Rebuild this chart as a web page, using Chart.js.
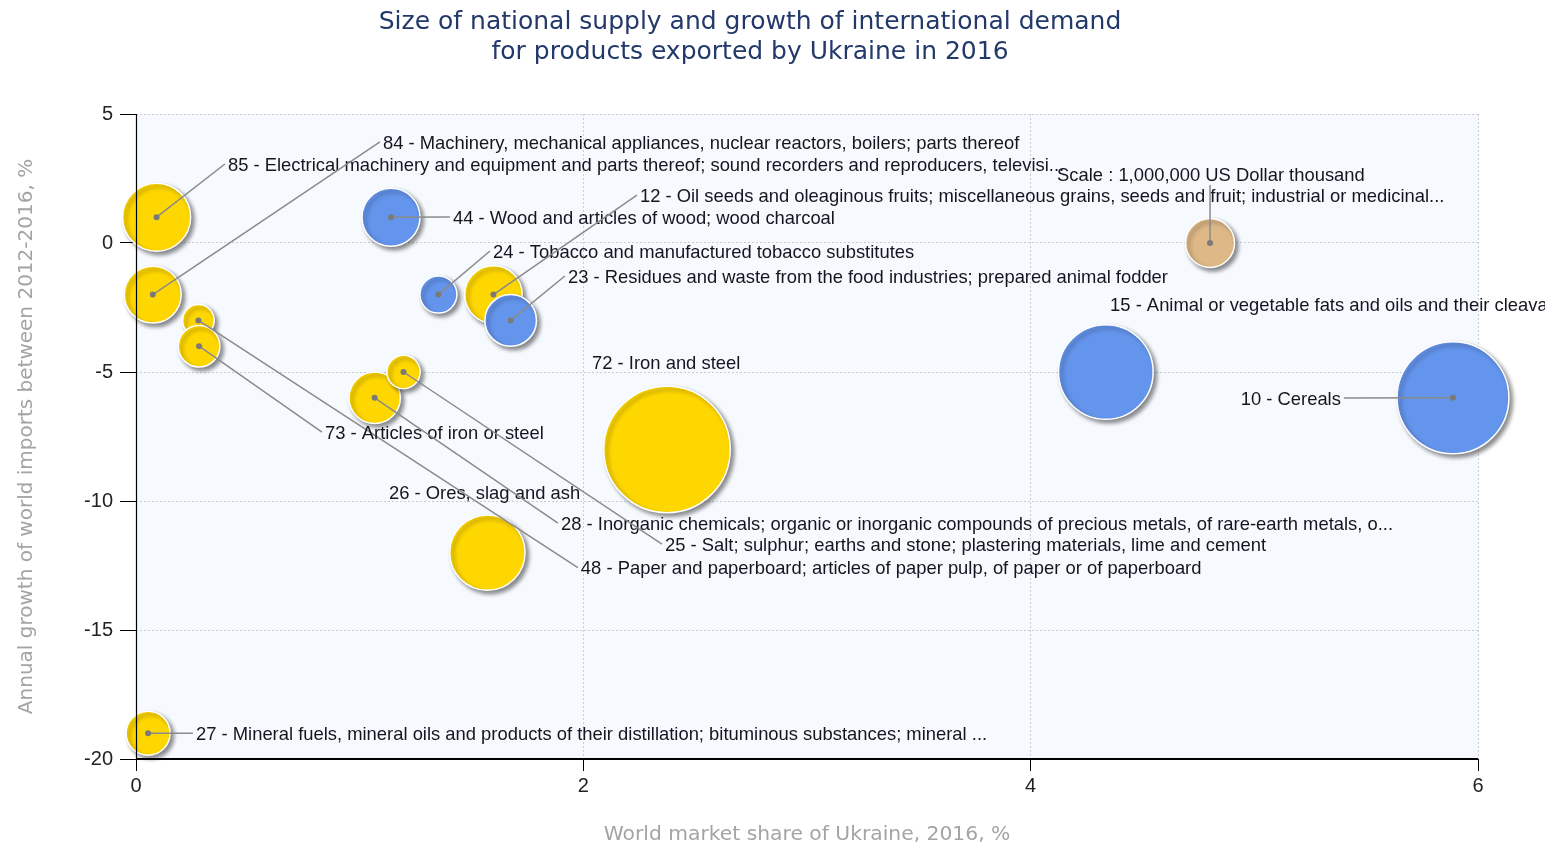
<!DOCTYPE html>
<html><head><meta charset="utf-8">
<script src="https://cdn.jsdelivr.net/npm/chart.js@4.4.1/dist/chart.umd.min.js"></script>
<style>html,body{margin:0;padding:0;background:#fff;overflow:hidden}</style>
</head><body>
<canvas id="c" width="1545" height="846"></canvas>
<script>
// ---------- text ----------
const TITLE = ["Size of national supply and growth of international demand", "for products exported by Ukraine in 2016"];
const X_TITLE = "World market share of Ukraine, 2016, %";
const Y_TITLE = "Annual growth of world imports between 2012-2016, %";

// ---------- axes ----------
const X_MIN = 0, X_MAX = 6, X_STEP = 2;
const Y_MIN = -20, Y_MAX = 5, Y_STEP = 5;

// ---------- data (drawing order) ----------
const codes = ["10","15","72","26","85","84","44","24","12","23","48","73","28","25","27"];
const names = [
  "Cereals",
  "Animal or vegetable fats and oils and their cleavage products; prepared edible fats; animal or vegetable waxes",
  "Iron and steel",
  "Ores, slag and ash",
  "Electrical machinery and equipment and parts thereof; sound recorders and reproducers, televisi...",
  "Machinery, mechanical appliances, nuclear reactors, boilers; parts thereof",
  "Wood and articles of wood; wood charcoal",
  "Tobacco and manufactured tobacco substitutes",
  "Oil seeds and oleaginous fruits; miscellaneous grains, seeds and fruit; industrial or medicinal...",
  "Residues and waste from the food industries; prepared animal fodder",
  "Paper and paperboard; articles of paper pulp, of paper or of paperboard",
  "Articles of iron or steel",
  "Inorganic chemicals; organic or inorganic compounds of precious metals, of rare-earth metals, o...",
  "Salt; sulphur; earths and stone; plastering materials, lime and cement",
  "Mineral fuels, mineral oils and products of their distillation; bituminous substances; mineral ..."
];
// world market share of Ukraine, 2016, %
const share  = [5.888, 4.336, 2.374, 1.571, 0.092, 0.075, 1.140, 1.352, 1.598, 1.675, 0.279, 0.282, 1.067, 1.196, 0.054];
// annual growth of world imports 2012-2016, %
const growth = [-6, -5, -8, -12, 1, -2, 1, -2, -2, -3, -3, -4, -6, -5, -19];
// exports of Ukraine 2016, US Dollar thousand (bubble size)
const exportValue = [5220000, 3730000, 6670000, 2370000, 1930000, 1350000, 1400000, 570000, 1380000, 1110000, 416000, 720000, 1100000, 465000, 806000];
// colour group
const group = ["blue","blue","gold","gold","gold","gold","blue","blue","gold","blue","gold","gold","gold","gold","gold"];
// scale bubble
const SCALE_VALUE = 1000000;
const SCALE_SHARE = 4.802, SCALE_GROWTH = 0;
const SCALE_TEXT = "Scale : 1,000,000 US Dollar thousand";

// ---------- label layout (axis units): [textX, textY, leader, align] ----------
const labelLayout = {
  "10": [5.387, -6.008, true, "right"],
  "15": [4.355, -2.364, false, "left"],
  "72": [2.039, -4.612, false, "left"],
  "26": [1.131, -9.651, false, "left"],
  "85": [0.411, 3.062, true, "left"],
  "84": [1.104, 3.915, true, "left"],
  "44": [1.417, 1.008, true, "left"],
  "24": [1.596, -0.310, true, "left"],
  "12": [2.253, 1.860, true, "left"],
  "23": [1.931, -1.279, true, "left"],
  "48": [1.989, -12.585, true, "left"],
  "73": [0.845, -7.326, true, "left"],
  "28": [1.900, -10.853, true, "left"],
  "25": [2.365, -11.667, true, "left"],
  "27": [0.268, -19.0, true, "left"]
};
const scaleLabelLayout = { text: [4.118, 2.655], leaderEnd: [4.802, 2.248] };

// ---------- styling ----------
const COLORS = { gold: "#FFD700", blue: "#6495ED", scale: "#DEB887" };
const SCALE_RADIUS = 24.5; // pixel radius of the 1,000,000 scale bubble
const LABEL_FONT = "18.4px 'Liberation Sans', Arial, sans-serif";
const TEXT_DY = 1.5;
const rOf = v => SCALE_RADIUS * Math.sqrt(v / SCALE_VALUE);

const points = share.map((x, i) => ({ x: x, y: growth[i], r: rOf(exportValue[i]), code: codes[i] }));
points.push({ x: SCALE_SHARE, y: SCALE_GROWTH, r: rOf(SCALE_VALUE), code: "scale" });
const bg = group.map(g => COLORS[g]).concat([COLORS.scale]);

const bgPlugin = {
  id: 'bgPlugin',
  beforeDraw(chart) {
    const { ctx, chartArea: a } = chart;
    ctx.save();
    ctx.fillStyle = '#fff';
    ctx.fillRect(0, 0, chart.width, chart.height);
    ctx.fillStyle = '#F6F9FE';
    ctx.fillRect(a.left, a.top, a.right - a.left, a.bottom - a.top);
    ctx.restore();
  },
  beforeDatasetDraw(chart) {
    const ctx = chart.ctx;
    ctx.save();
    ctx.shadowColor = 'rgba(0,0,0,0.45)';
    ctx.shadowBlur = 4;
    ctx.shadowOffsetX = 3;
    ctx.shadowOffsetY = 3;
  },
  afterDatasetDraw(chart) {
    chart.ctx.restore();
  },
  afterDatasetsDraw(chart) {
    const { ctx, chartArea: a } = chart;
    const xs = chart.scales.x, ys = chart.scales.y;
    ctx.save();
    // axis lines
    ctx.strokeStyle = '#000';
    ctx.lineWidth = 1.2;
    ctx.beginPath();
    ctx.moveTo(a.left + 0.5, a.top);
    ctx.lineTo(a.left + 0.5, a.bottom);
    ctx.stroke();
    ctx.lineWidth = 2;
    ctx.beginPath();
    ctx.moveTo(a.left, a.bottom);
    ctx.lineTo(a.right, a.bottom);
    ctx.stroke();

    ctx.font = LABEL_FONT;
    ctx.textBaseline = 'middle';
    const meta = chart.getDatasetMeta(0);
    points.forEach((p, i) => {
      const el = meta.data[i];
      const cx = el.x, cy = el.y;
      if (p.code === 'scale') {
        const ex = xs.getPixelForValue(scaleLabelLayout.leaderEnd[0]);
        const ey = ys.getPixelForValue(scaleLabelLayout.leaderEnd[1]);
        ctx.strokeStyle = '#8a8a8a'; ctx.lineWidth = 1.5;
        ctx.beginPath(); ctx.moveTo(cx, cy); ctx.lineTo(ex, ey); ctx.stroke();
        ctx.fillStyle = '#7a7a7a';
        ctx.beginPath(); ctx.arc(cx, cy, 3, 0, Math.PI * 2); ctx.fill();
        ctx.fillStyle = '#151520'; ctx.textAlign = 'left';
        ctx.fillText(SCALE_TEXT, xs.getPixelForValue(scaleLabelLayout.text[0]), ys.getPixelForValue(scaleLabelLayout.text[1]) + TEXT_DY);
        return;
      }
      const L = labelLayout[p.code];
      const tx = xs.getPixelForValue(L[0]);
      const ty = ys.getPixelForValue(L[1]);
      if (L[2]) {
        const ex = L[3] === 'right' ? tx + 3 : tx - 3;
        ctx.strokeStyle = '#8a8a8a'; ctx.lineWidth = 1.5;
        ctx.beginPath(); ctx.moveTo(cx, cy); ctx.lineTo(ex, ty); ctx.stroke();
        ctx.fillStyle = '#7a7a7a';
        ctx.beginPath(); ctx.arc(cx, cy, 3, 0, Math.PI * 2); ctx.fill();
      }
      ctx.fillStyle = '#151520';
      ctx.textAlign = L[3];
      ctx.fillText(codes[i] + ' - ' + names[i], tx, ty + TEXT_DY);
    });
    ctx.restore();
  },
  afterDraw(chart) {
    const ctx = chart.ctx;
    ctx.save();
    ctx.font = "25px 'DejaVu Sans', Verdana, sans-serif";
    ctx.fillStyle = '#22396A';
    ctx.textAlign = 'center';
    ctx.textBaseline = 'middle';
    ctx.fillText(TITLE[0], 750, 22);
    ctx.fillText(TITLE[1], 750, 52);
    ctx.restore();
  }
};

new Chart(document.getElementById('c'), {
  type: 'bubble',
  data: {
    datasets: [{
      data: points,
      backgroundColor: bg,
      borderColor: '#ffffff',
      borderWidth: 1.5,
      clip: false
    }]
  },
  options: {
    responsive: false,
    devicePixelRatio: 1,
    animation: false,
    events: [],
    layout: { padding: { top: 114, right: 67, left: 0, bottom: 0 } },
    plugins: { legend: { display: false }, tooltip: { enabled: false }, title: { display: false } },
    scales: {
      x: {
        type: 'linear', min: X_MIN, max: X_MAX,
        afterFit(s) { s.height = 87; },
        ticks: { stepSize: X_STEP, color: '#222', font: { family: "'Liberation Sans', Arial, sans-serif", size: 20 }, padding: 3, maxRotation: 0 },
        grid: { color: '#c9ccd2', tickColor: '#000', tickLength: 12, tickWidth: 1 },
        border: { display: false, dash: [2, 2] },
        title: { display: true, text: X_TITLE, color: '#a4a4a4', font: { family: "'DejaVu Sans', Verdana, sans-serif", size: 20.3, lineHeight: 1.0 }, padding: { top: 0, bottom: 1 } }
      },
      y: {
        type: 'linear', min: Y_MIN, max: Y_MAX,
        afterFit(s) { s.width = 136; },
        ticks: { stepSize: Y_STEP, color: '#222', font: { family: "'Liberation Sans', Arial, sans-serif", size: 20 }, padding: 7 },
        grid: { color: '#c9ccd2', tickColor: '#000', tickLength: 16, tickWidth: 1 },
        border: { display: false, dash: [2, 2] },
        title: { display: true, text: Y_TITLE, color: '#a4a4a4', font: { family: "'DejaVu Sans', Verdana, sans-serif", size: 20 }, padding: { top: 15, bottom: 0 } }
      }
    }
  },
  plugins: [bgPlugin]
});
</script>
</body></html>
